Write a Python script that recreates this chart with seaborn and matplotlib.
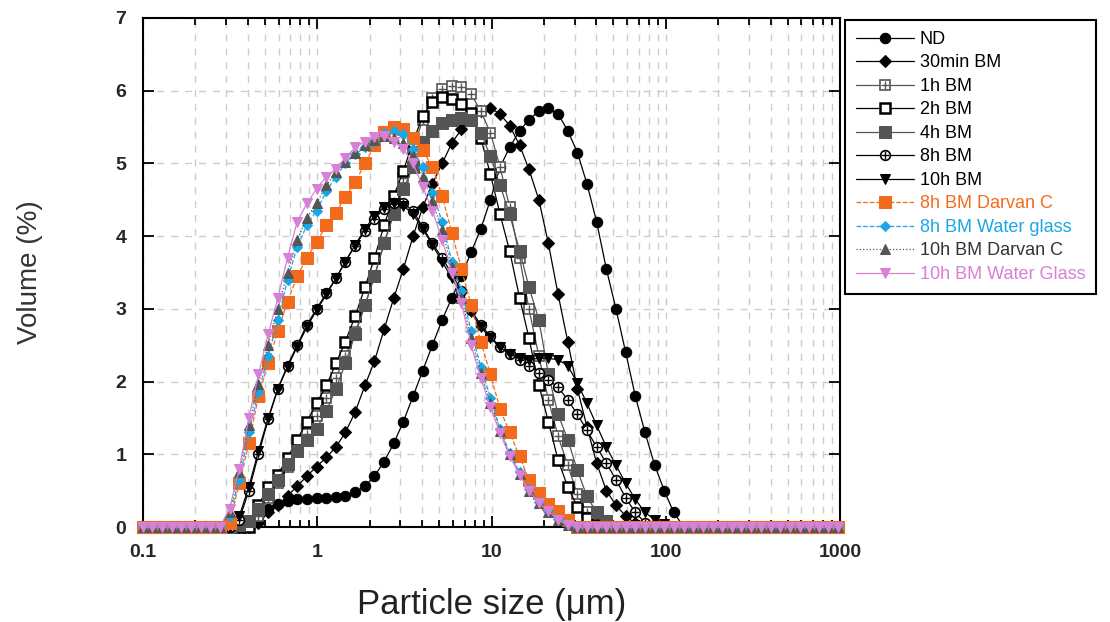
import matplotlib
matplotlib.use("Agg")
import matplotlib.pyplot as plt
import seaborn as sns

sns.set_style("ticks")
plt.rcParams['font.family'] = ['Liberation Sans', 'DejaVu Sans']

# size classes (um), laser diffraction grid
sizes = [0.0995, 0.113, 0.128, 0.146, 0.166, 0.188, 0.214, 0.243, 0.276, 0.314,
         0.357, 0.405, 0.46, 0.523, 0.594, 0.675, 0.767, 0.872, 0.991, 1.13,
         1.28, 1.45, 1.65, 1.88, 2.13, 2.42, 2.75, 3.12, 3.55, 4.03,
         4.58, 5.21, 5.92, 6.72, 7.64, 8.68, 9.86, 11.2, 12.7, 14.5,
         16.4, 18.7, 21.2, 24.1, 27.4, 31.1, 35.3, 40.1, 45.6, 51.8,
         58.9, 66.9, 76.0, 86.4, 98.1, 111, 127, 144, 163, 186,
         211, 240, 272, 310, 352, 400, 454, 516, 586, 666,
         756, 859, 976]

# volume (%) per class
nd = [0] * 12 + [0.1, 0.25, 0.32, 0.36, 0.38, 0.39, 0.4, 0.4, 0.41, 0.43,
                 0.48, 0.56, 0.7, 0.9, 1.15, 1.45, 1.8, 2.15, 2.5, 2.85,
                 3.15, 3.45, 3.78, 4.1, 4.5, 4.95, 5.22, 5.45, 5.6, 5.72,
                 5.76, 5.68, 5.45, 5.15, 4.72, 4.2, 3.55, 3.0, 2.4, 1.8,
                 1.3, 0.85, 0.5, 0.2] + [0] * 17
bm30 = [0] * 12 + [0.05, 0.2, 0.3, 0.43, 0.56, 0.7, 0.83, 0.96, 1.1, 1.3,
                   1.58, 1.95, 2.28, 2.72, 3.15, 3.55, 4.0, 4.4, 4.72, 5.0,
                   5.28, 5.47, 5.62, 5.72, 5.76, 5.68, 5.52, 5.25, 4.92, 4.5,
                   3.9, 3.2, 2.55, 1.9, 1.38, 0.88, 0.5, 0.3, 0.15, 0.05] + [0] * 21
bm1h = [0] * 12 + [0.15, 0.4, 0.6, 0.82, 1.05, 1.28, 1.52, 1.78, 2.05, 2.35,
                   2.68, 3.05, 3.45, 3.9, 4.35, 4.8, 5.2, 5.6, 5.9, 6.02,
                   6.06, 6.05, 5.95, 5.72, 5.42, 4.95, 4.4, 3.7, 3.0, 2.35,
                   1.75, 1.25, 0.85, 0.45, 0.2, 0.07] + [0] * 25
bm2h = [0] * 12 + [0.3, 0.55, 0.72, 0.95, 1.2, 1.45, 1.7, 1.95, 2.25, 2.55,
                   2.9, 3.3, 3.7, 4.15, 4.55, 4.9, 5.3, 5.65, 5.85, 5.92,
                   5.88, 5.82, 5.7, 5.35, 4.85, 4.3, 3.8, 3.15, 2.6, 1.95,
                   1.45, 0.92, 0.55, 0.28, 0.12, 0.03] + [0] * 25
bm4h = [0] * 10 + [0.03, 0.08, 0.25, 0.45, 0.65, 0.86, 1.05, 1.2, 1.35, 1.6,
                   1.9, 2.25, 2.65, 3.05, 3.45, 3.9, 4.3, 4.65, 4.95, 5.3,
                   5.45, 5.55, 5.6, 5.62, 5.6, 5.42, 5.1, 4.7, 4.3, 3.8,
                   3.3, 2.85, 2.1, 1.55, 1.2, 0.78, 0.42, 0.2, 0.08] + [0] * 24
bm8h = [0] * 10 + [0.1, 0.5, 1.0, 1.48, 1.9, 2.22, 2.5, 2.78, 3.0, 3.22,
                   3.42, 3.65, 3.87, 4.07, 4.24, 4.38, 4.46, 4.45, 4.35, 4.12,
                   3.9, 3.7, 3.48, 3.25, 2.98, 2.78, 2.62, 2.48, 2.38, 2.3,
                   2.22, 2.12, 2.02, 1.92, 1.75, 1.55, 1.33, 1.1, 0.88, 0.65,
                   0.4, 0.2, 0.06] + [0] * 20
bm10h = [0] * 10 + [0.15, 0.55, 1.05, 1.5, 1.9, 2.2, 2.48, 2.75, 2.98, 3.2,
                    3.42, 3.65, 3.88, 4.1, 4.28, 4.4, 4.45, 4.42, 4.3, 4.1,
                    3.88, 3.65, 3.42, 3.2, 2.95, 2.75, 2.6, 2.47, 2.38, 2.32,
                    2.3, 2.32, 2.32, 2.3, 2.22, 1.98, 1.7, 1.4, 1.1, 0.85,
                    0.6, 0.38, 0.2, 0.1, 0.04] + [0] * 18
darvan8 = [0] * 9 + [0.05, 0.6, 1.15, 1.8, 2.25, 2.7, 3.1, 3.45, 3.7, 3.92,
                     4.15, 4.32, 4.54, 4.74, 5.0, 5.25, 5.43, 5.5, 5.47, 5.35,
                     5.18, 4.95, 4.55, 4.05, 3.55, 3.05, 2.55, 2.1, 1.62, 1.3,
                     0.97, 0.65, 0.47, 0.32, 0.22, 0.1] + [0] * 28
glass8 = [0] * 9 + [0.15, 0.65, 1.3, 1.85, 2.35, 2.85, 3.4, 3.85, 4.15, 4.35,
                    4.62, 4.82, 5.0, 5.13, 5.22, 5.3, 5.42, 5.45, 5.4, 5.2,
                    4.95, 4.6, 4.2, 3.65, 3.25, 2.7, 2.2, 1.78, 1.35, 1.02,
                    0.75, 0.52, 0.35, 0.22, 0.11, 0.04] + [0] * 28
darvan10 = [0] * 9 + [0.2, 0.75, 1.4, 1.97, 2.5, 3.0, 3.5, 3.95, 4.25, 4.45,
                      4.7, 4.88, 5.02, 5.15, 5.25, 5.32, 5.38, 5.35, 5.28, 5.1,
                      4.82, 4.48, 4.08, 3.58, 3.15, 2.6, 2.12, 1.7, 1.32, 1.0,
                      0.73, 0.5, 0.33, 0.21, 0.1, 0.03] + [0] * 28
glass10 = [0] * 9 + [0.25, 0.8, 1.5, 2.1, 2.65, 3.15, 3.7, 4.2, 4.45, 4.65,
                     4.82, 4.93, 5.08, 5.22, 5.3, 5.36, 5.38, 5.3, 5.2, 5.0,
                     4.68, 4.35, 3.95, 3.5, 3.08, 2.5, 2.05, 1.65, 1.29, 0.98,
                     0.72, 0.5, 0.33, 0.22, 0.1, 0.03] + [0] * 28

labels = ['ND', '30min BM', '1h BM', '2h BM', '4h BM', '8h BM', '10h BM',
          '8h BM Darvan C', '8h BM Water glass', '10h BM Darvan C',
          '10h BM Water Glass']
xticks = [0.1, 1, 10, 100, 1000]
xtick_labels = ['0.1', '1', '10', '100', '1000']

orange = '#f26b1d'
cyan = '#1aa7e6'
violet = '#d87fd6'
dgray = '#555555'

fig = plt.figure(figsize=(11.1, 6.22), dpi=100)
ax = fig.add_axes([143 / 1110, 95 / 622, 697 / 1110, 509 / 622])
ax.set_xscale('log')

styles = [
    (nd, dict(color='black', marker='o', markersize=7.5, mfc='black', mec='black')),
    (bm30, dict(color='black', marker='D', markersize=6, mfc='black', mec='black')),
    (bm1h, dict(color=dgray, marker='s', markersize=7.5, mfc='white', mec=dgray, mew=1.2)),
    (bm2h, dict(color='black', marker='s', markersize=7.5, mfc='white', mec='black', mew=1.8)),
    (bm4h, dict(color=dgray, marker='s', markersize=8, mfc=dgray, mec=dgray)),
    (bm8h, dict(color='black', marker='o', markersize=7, mfc='white', mec='black', mew=1.2)),
    (bm10h, dict(color='black', marker='v', markersize=7, mfc='black', mec='black')),
    (darvan8, dict(color=orange, marker='s', markersize=8.5, mfc=orange, mec=orange, linestyle='--')),
    (glass8, dict(color=cyan, marker='D', markersize=5.5, mfc=cyan, mec=cyan, linestyle='--')),
    (darvan10, dict(color=dgray, marker='^', markersize=6.5, mfc=dgray, mec=dgray, linestyle=':')),
    (glass10, dict(color=violet, marker='v', markersize=7.5, mfc=violet, mec=violet)),
]

handles = []
for (vals, kw), lab in zip(styles, labels):
    kw = dict(kw)
    kw.setdefault('linestyle', '-')
    sns.lineplot(x=sizes, y=vals, ax=ax, linewidth=0.9, clip_on=False, zorder=3, **kw)
    line = ax.lines[-1]
    if lab in ('1h BM', '8h BM'):
        # cross drawn inside the open marker
        sns.lineplot(x=sizes, y=vals, ax=ax, color=kw['mec'], marker='+',
                     markersize=6, mew=1.0, mec=kw['mec'], linestyle='none',
                     clip_on=False, zorder=3)
        handles.append((line, ax.lines[-1]))
    else:
        handles.append(line)

ax.set_xlim(0.1, 1000)
ax.set_ylim(0, 7)
ax.set_xticks(xticks)
ax.set_xticklabels(xtick_labels)
ax.set_yticks(range(0, 8))

ax.grid(which='major', axis='both', color='#cccccc', linestyle=(0, (5, 5)), linewidth=1)
ax.grid(which='minor', axis='x', color='#cccccc', linestyle=(0, (5, 5)), linewidth=1)
ax.set_axisbelow(True)

for s in ax.spines.values():
    s.set_linewidth(1.5)
    s.set_color('black')
ax.tick_params(which='both', direction='in', top=True, right=True, width=1.3, color='black')
ax.tick_params(which='major', length=8, pad=12, labelsize=14)
ax.tick_params(which='minor', length=5)
for t in ax.get_xticklabels() + ax.get_yticklabels():
    t.set_fontweight('bold')

ax.set_xlabel('Particle size (μm)', fontsize=25, color='#222222', labelpad=20)
ax.set_ylabel('Volume (%)', fontsize=20, color='#333333', labelpad=52)

leg = fig.legend(handles, labels, loc='upper left',
                 bbox_to_anchor=(845 / 1110, 1 - 20 / 622), borderaxespad=0,
                 frameon=True, fancybox=False, edgecolor='black', framealpha=1,
                 fontsize=13, handlelength=3.2, labelspacing=0.36,
                 borderpad=0.6, handletextpad=0.35)
leg.get_frame().set_linewidth(1.5)
text_colors = ['black'] * 7 + [orange, cyan, '#333333', violet]
for t, c in zip(leg.get_texts(), text_colors):
    t.set_color(c)

fig.savefig('out.png', dpi=100)
